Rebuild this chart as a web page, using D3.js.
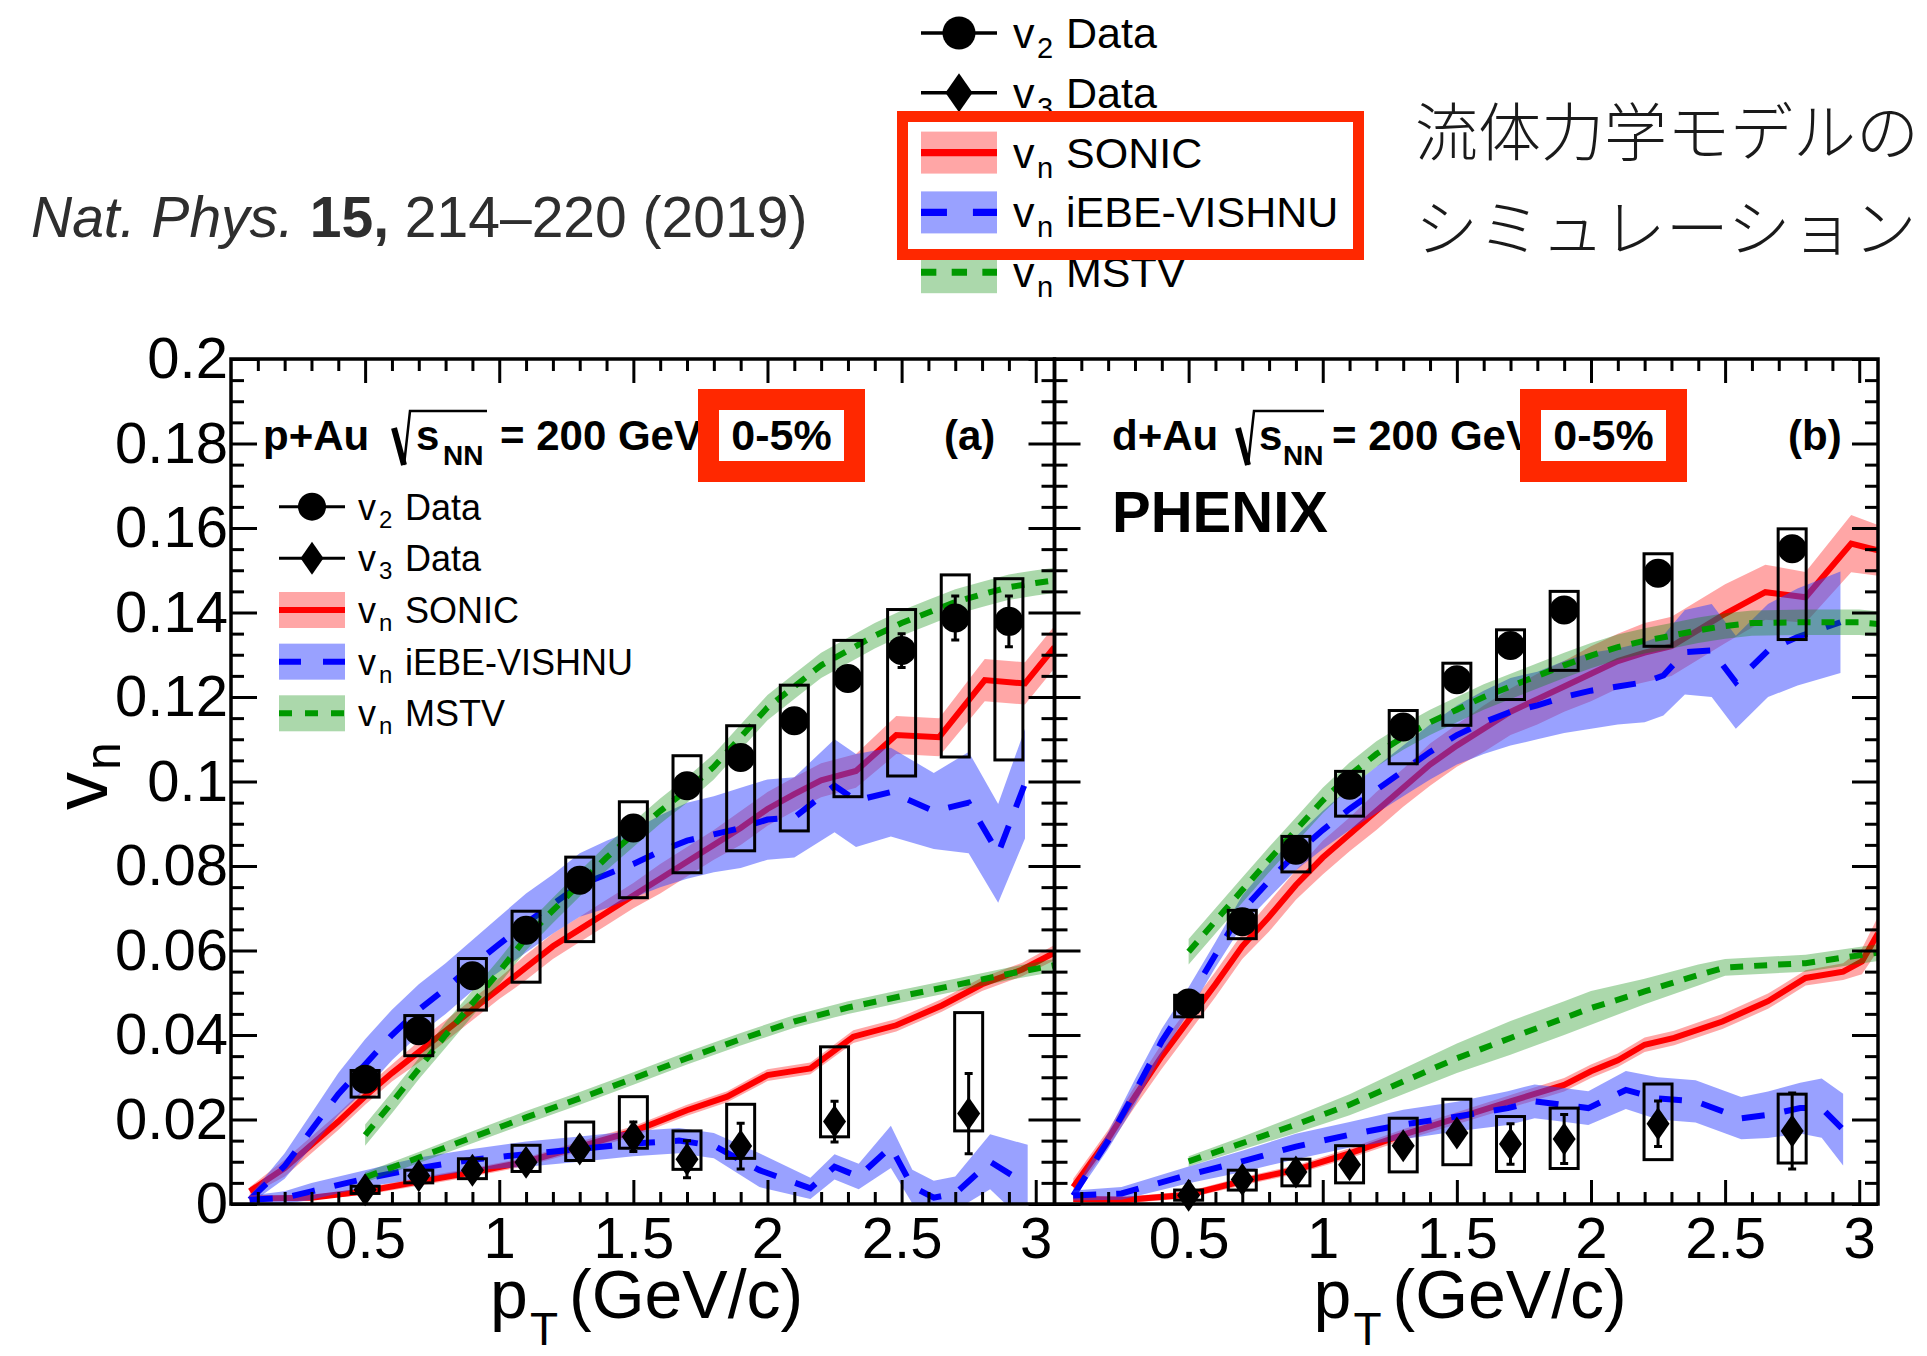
<!DOCTYPE html>
<html>
<head>
<meta charset="utf-8">
<script src="https://cdn.jsdelivr.net/npm/d3@7"></script>
<style>
  body { margin: 0; background: #fff; }
  text { font-family: "Liberation Sans", Arial, Helvetica, sans-serif; }
</style>
</head>
<body>
<svg id="chart" width="1927" height="1356"></svg>
<script>
// ---- measured points, read off the figure (pT in GeV/c) ----
// panel (a) p+Au
var ptV2_pAu    = [0.5, 0.7, 0.9, 1.1, 1.3, 1.5, 1.7, 1.9, 2.1, 2.3, 2.5, 2.7, 2.9];
var v2_pAu      = [0.0295, 0.041, 0.054, 0.0648, 0.0766, 0.089, 0.099, 0.1057, 0.1144, 0.1244, 0.131, 0.1387, 0.1379];
var v2Stat_pAu  = [0.001, 0.001, 0.001, 0.0012, 0.0012, 0.0013, 0.0015, 0.0018, 0.002, 0.0025, 0.004, 0.0052, 0.006];
var v2SysLo_pAu = [0.0253, 0.0351, 0.0459, 0.0525, 0.0621, 0.0725, 0.0784, 0.0836, 0.0883, 0.0964, 0.1013, 0.1058, 0.1051];
var v2SysHi_pAu = [0.0316, 0.0446, 0.0581, 0.0693, 0.0821, 0.0952, 0.1061, 0.1132, 0.1228, 0.1334, 0.1407, 0.1489, 0.148];

var ptV3_pAu    = [0.5, 0.7, 0.9, 1.1, 1.3, 1.5, 1.7, 1.9, 2.25, 2.75];
var v3_pAu      = [0.0034, 0.0067, 0.008, 0.0099, 0.013, 0.0159, 0.0106, 0.0137, 0.0195, 0.0214];
var v3Stat_pAu  = [0.0015, 0.0015, 0.0015, 0.0015, 0.002, 0.0035, 0.0044, 0.0054, 0.0048, 0.0095];
var v3SysLo_pAu = [0.0025, 0.005, 0.006, 0.0077, 0.0103, 0.0132, 0.0082, 0.0108, 0.0159, 0.0173];
var v3SysHi_pAu = [0.0042, 0.008, 0.0107, 0.0139, 0.0194, 0.0254, 0.0173, 0.0236, 0.0372, 0.0453];

// panel (b) d+Au
var pt_dAu      = [0.5, 0.7, 0.9, 1.1, 1.3, 1.5, 1.7, 1.9, 2.25, 2.75];
var v2_dAu      = [0.0476, 0.0668, 0.0837, 0.0991, 0.1129, 0.1241, 0.1322, 0.1406, 0.1493, 0.1551];
var v2Stat_dAu  = [0.001, 0.001, 0.001, 0.001, 0.0012, 0.0012, 0.0014, 0.0016, 0.002, 0.0025];
var v2SysLo_dAu = [0.0443, 0.0628, 0.0786, 0.0918, 0.1042, 0.1133, 0.1194, 0.1263, 0.132, 0.1336];
var v2SysHi_dAu = [0.0494, 0.0695, 0.087, 0.1024, 0.1168, 0.128, 0.1359, 0.145, 0.1539, 0.1598];
var v3_dAu      = [0.0021, 0.0058, 0.0076, 0.0093, 0.0138, 0.0168, 0.0142, 0.0154, 0.019, 0.0173];
var v3Stat_dAu  = [0.0015, 0.0015, 0.0015, 0.0015, 0.002, 0.002, 0.0048, 0.0058, 0.0054, 0.009];
var v3SysLo_dAu = [0.0009, 0.0033, 0.0043, 0.005, 0.0076, 0.0093, 0.0077, 0.0084, 0.0105, 0.0097];
var v3SysHi_dAu = [0.0033, 0.008, 0.0106, 0.0138, 0.0203, 0.0248, 0.0207, 0.0227, 0.0284, 0.026];

// ---- hydro model curves: [pT, vn, half width of band] ----
var sonicV2_pAu = [[0.07,0.003,0.001],[0.2,0.0085,0.002],[0.3,0.014,0.002],[0.4,0.0195,0.002],[0.5,0.0255,0.002],
  [0.6,0.031,0.002],[0.7,0.036,0.0025],[0.8,0.041,0.0025],[0.9,0.046,0.0025],[1.0,0.051,0.0025],[1.1,0.056,0.003],
  [1.2,0.061,0.003],[1.3,0.065,0.003],[1.4,0.069,0.003],[1.5,0.073,0.003],[1.6,0.077,0.0035],[1.7,0.081,0.0035],
  [1.8,0.085,0.0035],[1.9,0.089,0.004],[2.0,0.0935,0.004],[2.1,0.097,0.004],[2.2,0.1003,0.004],[2.33,0.1025,0.004],
  [2.48,0.111,0.0045],[2.64,0.1105,0.0045],[2.81,0.124,0.005],[2.96,0.1232,0.005],[3.07,0.1318,0.005]];
var vishnuV2_pAu = [[0.07,0.001,0.001],[0.2,0.009,0.003],[0.3,0.0175,0.004],[0.4,0.026,0.005],[0.5,0.033,0.006],
  [0.6,0.04,0.006],[0.7,0.046,0.006],[0.8,0.051,0.006],[0.9,0.0565,0.006],[1.0,0.0615,0.0065],[1.1,0.0665,0.007],
  [1.2,0.071,0.007],[1.3,0.0755,0.0075],[1.4,0.078,0.008],[1.5,0.0805,0.008],[1.6,0.0835,0.0085],[1.7,0.086,0.009],
  [1.8,0.0875,0.009],[1.9,0.089,0.0095],[2.0,0.091,0.0095],[2.1,0.0915,0.0095],[2.25,0.099,0.011],[2.33,0.0955,0.011],
  [2.46,0.0975,0.0105],[2.62,0.093,0.009],[2.75,0.095,0.012],[2.86,0.083,0.0117],[2.96,0.0995,0.013]];
var mstvV2_pAu = [[0.5,0.0163,0.0025],[0.6,0.024,0.0025],[0.7,0.032,0.0025],[0.8,0.04,0.003],[0.9,0.0475,0.003],
  [1.0,0.055,0.003],[1.1,0.063,0.003],[1.2,0.0695,0.003],[1.3,0.0758,0.003],[1.4,0.082,0.003],[1.5,0.0875,0.003],
  [1.6,0.093,0.003],[1.7,0.098,0.003],[1.8,0.1035,0.003],[1.9,0.1105,0.003],[2.0,0.1175,0.003],[2.1,0.1225,0.003],
  [2.2,0.1275,0.003],[2.3,0.131,0.003],[2.4,0.1345,0.003],[2.5,0.1375,0.003],[2.6,0.14,0.003],[2.7,0.1425,0.003],
  [2.8,0.1443,0.003],[2.9,0.146,0.003],[3.0,0.147,0.003],[3.07,0.1476,0.003]];
var sonicV3_pAu = [[0.07,0.0013,0.0005],[0.3,0.0015,0.0005],[0.5,0.003,0.0008],[0.7,0.0053,0.001],[0.9,0.0075,0.001],
  [1.1,0.01,0.001],[1.3,0.0136,0.0012],[1.5,0.0172,0.0012],[1.7,0.0222,0.0013],[1.85,0.0254,0.0013],[2.0,0.0305,0.0014],
  [2.16,0.0321,0.0014],[2.32,0.0396,0.0015],[2.48,0.0423,0.0015],[2.65,0.047,0.0015],[2.8,0.052,0.0016],
  [2.95,0.0555,0.0016],[3.07,0.0595,0.0018]];
var vishnuV3_pAu = [[0.07,0.001,0.001],[0.2,0.0015,0.0015],[0.3,0.003,0.002],[0.5,0.006,0.002],[0.7,0.0085,0.0025],
  [0.9,0.0105,0.0025],[1.1,0.0118,0.003],[1.3,0.013,0.003],[1.5,0.0143,0.003],[1.67,0.015,0.003],[1.8,0.0138,0.003],
  [1.97,0.008,0.004],[2.16,0.0037,0.0025],[2.25,0.0088,0.003],[2.34,0.0065,0.003],[2.46,0.0135,0.005],
  [2.54,0.0041,0.004],[2.62,0.0015,0.004],[2.7,0.0025,0.004],[2.83,0.01,0.0065],[2.97,0.0045,0.0095]];
var mstvV3_pAu = [[0.5,0.0063,0.0012],[0.7,0.011,0.0013],[0.9,0.0158,0.0014],[1.1,0.0205,0.0015],[1.3,0.025,0.0015],
  [1.5,0.0297,0.0015],[1.7,0.0345,0.0015],[1.9,0.039,0.0015],[2.1,0.0432,0.0015],[2.3,0.0465,0.0015],
  [2.5,0.0492,0.0015],[2.7,0.0518,0.0015],[2.9,0.0545,0.0015],[3.07,0.0565,0.0015]];

var sonicV2_dAu = [[0.07,0.004,0.002],[0.2,0.0155,0.002],[0.3,0.0255,0.0025],[0.4,0.035,0.003],[0.5,0.0435,0.003],
  [0.6,0.052,0.003],[0.7,0.061,0.003],[0.8,0.068,0.0035],[0.9,0.0755,0.0035],[1.0,0.082,0.004],[1.1,0.0875,0.004],
  [1.2,0.093,0.0045],[1.3,0.0985,0.0045],[1.4,0.104,0.005],[1.5,0.1085,0.005],[1.6,0.1125,0.0055],[1.7,0.1165,0.0055],
  [1.8,0.1195,0.006],[1.9,0.1225,0.006],[2.0,0.1255,0.0065],[2.1,0.1285,0.0065],[2.2,0.1305,0.007],[2.3,0.132,0.007],
  [2.5,0.1397,0.007],[2.65,0.1448,0.0065],[2.8,0.1436,0.006],[2.97,0.1563,0.0068],[3.07,0.1547,0.006]];
var vishnuV2_dAu = [[0.07,0.002,0.001],[0.2,0.015,0.002],[0.3,0.0265,0.003],[0.4,0.0385,0.003],[0.5,0.0483,0.003],
  [0.6,0.059,0.003],[0.7,0.0695,0.0035],[0.8,0.0765,0.004],[0.9,0.083,0.004],[1.0,0.0885,0.0045],[1.1,0.0935,0.005],
  [1.2,0.098,0.0055],[1.3,0.1025,0.006],[1.4,0.107,0.0065],[1.5,0.111,0.007],[1.6,0.114,0.0075],[1.7,0.1165,0.008],
  [1.8,0.118,0.008],[1.9,0.12,0.0085],[2.0,0.1215,0.009],[2.1,0.1225,0.009],[2.2,0.1235,0.0095],[2.27,0.1251,0.0095],
  [2.35,0.1306,0.01],[2.45,0.131,0.011],[2.54,0.1235,0.011],[2.66,0.131,0.011],[2.77,0.1342,0.0115],[2.93,0.1377,0.012]];
var mstvV2_dAu = [[0.5,0.0597,0.003],[0.6,0.067,0.003],[0.7,0.0743,0.003],[0.8,0.0815,0.003],[0.9,0.0885,0.003],
  [1.0,0.0955,0.003],[1.1,0.1015,0.003],[1.2,0.1065,0.003],[1.3,0.1105,0.003],[1.4,0.114,0.003],[1.5,0.117,0.003],
  [1.6,0.12,0.003],[1.7,0.1225,0.003],[1.8,0.125,0.003],[1.9,0.1275,0.003],[2.0,0.1298,0.003],[2.1,0.1318,0.003],
  [2.2,0.1333,0.003],[2.3,0.1345,0.003],[2.4,0.1358,0.003],[2.5,0.1368,0.003],[2.6,0.1375,0.003],[2.8,0.1377,0.003],
  [3.0,0.1377,0.003],[3.07,0.1373,0.003]];
var sonicV3_dAu = [[0.07,0.0012,0.0008],[0.27,0.001,0.0008],[0.5,0.0022,0.0008],[0.7,0.0054,0.001],[0.9,0.0081,0.001],
  [1.1,0.012,0.0012],[1.3,0.0164,0.0013],[1.5,0.0203,0.0014],[1.7,0.0243,0.0015],[1.9,0.0282,0.0016],[2.0,0.0314,0.0016],
  [2.1,0.034,0.0016],[2.2,0.0377,0.0017],[2.31,0.0393,0.0017],[2.49,0.0432,0.0018],[2.66,0.048,0.0018],
  [2.8,0.0535,0.0018],[2.94,0.055,0.002],[3.01,0.0574,0.003],[3.07,0.064,0.004]];
var vishnuV3_dAu = [[0.07,0.002,0.0012],[0.25,0.0025,0.0015],[0.5,0.0069,0.002],[0.7,0.0101,0.0025],[0.9,0.0136,0.003],
  [1.1,0.0164,0.003],[1.3,0.0188,0.0035],[1.5,0.0207,0.0035],[1.69,0.0227,0.004],[1.79,0.0243,0.004],[1.89,0.0235,0.004],
  [1.99,0.0227,0.004],[2.13,0.027,0.0045],[2.25,0.025,0.005],[2.39,0.0243,0.005],[2.56,0.0203,0.005],
  [2.66,0.0211,0.0055],[2.78,0.0227,0.006],[2.86,0.0227,0.007],[2.94,0.0176,0.0085]];
var mstvV3_dAu = [[0.5,0.0101,0.0012],[0.7,0.0144,0.0015],[0.9,0.0188,0.002],[1.1,0.0235,0.0025],[1.3,0.029,0.003],
  [1.5,0.0345,0.0035],[1.7,0.0393,0.004],[1.9,0.044,0.004],[2.0,0.0464,0.004],[2.2,0.0503,0.003],[2.4,0.0542,0.0025],
  [2.5,0.056,0.002],[2.8,0.057,0.002],[3.07,0.0595,0.002]];

// ticks and labels
var xMajor = [0.5, 1, 1.5, 2, 2.5, 3];
var xLabels = ["0.5", "1", "1.5", "2", "2.5", "3"];
var yMajor = [0, 0.02, 0.04, 0.06, 0.08, 0.1, 0.12, 0.14, 0.16, 0.18, 0.2];
var yLabels = ["0", "0.02", "0.04", "0.06", "0.08", "0.1", "0.12", "0.14", "0.16", "0.18", "0.2"];
var legendNames = ["Data", "Data", "SONIC", "iEBE-VISHNU", "MSTV"];
var legendSubs = ["2", "3", "n", "n", "n"];

// ---- layout ----
var svg = d3.select("#chart");
svg.append("rect").attr("width", 1927).attr("height", 1356).attr("fill", "#fff");

var plotTop = 359, plotBottom = 1204;
var y = d3.scaleLinear().domain([0, 0.2]).range([plotBottom, plotTop]);

var styles = {
  sonic:  {band: "#ff0000", op: 0.35, line: "#ff0000", dash: null},
  vishnu: {band: "#3344ff", op: 0.5,  line: "#0000ff", dash: "23,20"},
  mstv:   {band: "#008800", op: 0.33, line: "#009900", dash: "13,11"}
};
var RED = "#ff2800";

function zipData(pt, v, st, lo, hi) {
  return pt.map(function(p, i) { return {pt: p, v: v[i], st: st[i], lo: lo[i], hi: hi[i]}; });
}

var panels = [
  {
    id: "a", left: 231, right: 1054.5, sys: "p+Au", tag: "(a)",
    hx: 263, rx: 394, sx: 416, nx: 443, ovEnd: 487, ex: 500, tagX: 944, boxX: 708.5,
    v2: zipData(ptV2_pAu, v2_pAu, v2Stat_pAu, v2SysLo_pAu, v2SysHi_pAu),
    v3: zipData(ptV3_pAu, v3_pAu, v3Stat_pAu, v3SysLo_pAu, v3SysHi_pAu),
    models: [["sonic", sonicV2_pAu], ["vishnu", vishnuV2_pAu], ["mstv", mstvV2_pAu],
             ["sonic", sonicV3_pAu], ["vishnu", vishnuV3_pAu], ["mstv", mstvV3_pAu]],
    yLabels: true
  },
  {
    id: "b", left: 1054.5, right: 1878, sys: "d+Au", tag: "(b)",
    hx: 1112, rx: 1238, sx: 1259, nx: 1283, ovEnd: 1324, ex: 1332, tagX: 1788, boxX: 1530.5,
    v2: zipData(pt_dAu, v2_dAu, v2Stat_dAu, v2SysLo_dAu, v2SysHi_dAu),
    v3: zipData(pt_dAu, v3_dAu, v3Stat_dAu, v3SysLo_dAu, v3SysHi_dAu),
    models: [["sonic", sonicV2_dAu], ["vishnu", vishnuV2_dAu], ["mstv", mstvV2_dAu],
             ["sonic", sonicV3_dAu], ["vishnu", vishnuV3_dAu], ["mstv", mstvV3_dAu]],
    yLabels: false
  }
];

var diamond = "M0,-16.5L11.5,0L0,16.5L-11.5,0Z";

panels.forEach(function(p) {
  var x = d3.scaleLinear().domain([0, 3.07]).range([p.left, p.right]);
  var g = svg.append("g");

  g.append("clipPath").attr("id", "clip-" + p.id)
    .append("rect").attr("x", p.left).attr("y", plotTop)
    .attr("width", p.right - p.left).attr("height", plotBottom - plotTop);

  var curves = g.append("g").attr("clip-path", "url(#clip-" + p.id + ")");
  var area = d3.area().x(function(d) { return x(d[0]); })
    .y0(function(d) { return y(d[1] - d[2]); }).y1(function(d) { return y(d[1] + d[2]); });
  var line = d3.line().x(function(d) { return x(d[0]); }).y(function(d) { return y(d[1]); });

  p.models.forEach(function(m) {
    var s = styles[m[0]];
    curves.append("path").attr("d", area(m[1])).attr("fill", s.band).attr("fill-opacity", s.op);
    curves.append("path").attr("d", line(m[1])).attr("fill", "none")
      .attr("stroke", s.line).attr("stroke-width", 6)
      .attr("stroke-dasharray", s.dash);
  });

  // data: systematic boxes, stat bars, markers
  [p.v2, p.v3].forEach(function(set, k) {
    var dg = g.append("g");
    dg.selectAll("rect.sys").data(set).enter().append("rect")
      .attr("x", function(d) { return x(d.pt) - 14; })
      .attr("y", function(d) { return y(d.hi); })
      .attr("width", 28)
      .attr("height", function(d) { return y(d.lo) - y(d.hi); })
      .attr("fill", "none").attr("stroke", "#000").attr("stroke-width", 3);
    dg.selectAll("path.err").data(set).enter().append("path")
      .attr("d", function(d) {
        var cx = x(d.pt), t = y(d.v + d.st), b = y(d.v - d.st);
        return "M" + cx + "," + t + "V" + b + "M" + (cx - 4) + "," + t + "H" + (cx + 4) +
               "M" + (cx - 4) + "," + b + "H" + (cx + 4);
      })
      .attr("stroke", "#000").attr("stroke-width", 3).attr("fill", "none");
    if (k === 0) {
      dg.selectAll("circle").data(set).enter().append("circle")
        .attr("cx", function(d) { return x(d.pt); })
        .attr("cy", function(d) { return y(d.v); })
        .attr("r", 14.5).attr("fill", "#000");
    } else {
      dg.selectAll("path.mk").data(set).enter().append("path")
        .attr("d", diamond)
        .attr("transform", function(d) { return "translate(" + x(d.pt) + "," + y(d.v) + ")"; })
        .attr("fill", "#000");
    }
  });

  // frame and ticks (inside, all four sides)
  var xMinor = d3.range(1, 31).map(function(i) { return i / 10; })
    .filter(function(v) { return Math.abs(v * 2 - Math.round(v * 2)) > 1e-6; });
  var yMinor = d3.range(1, 40).map(function(i) { return i * 0.005; })
    .filter(function(v) { return Math.abs(v / 0.02 - Math.round(v / 0.02)) > 1e-6; });

  function tickAxis(axis, tf) {
    var ag = g.append("g").attr("transform", tf).call(axis);
    ag.select(".domain").remove();
    ag.selectAll("line").attr("stroke", "#000").attr("stroke-width", 3);
    ag.selectAll("text").attr("fill", "#000")
      .style("font-family", "'Liberation Sans', Arial, sans-serif").style("font-size", "58px");
    return ag;
  }
  tickAxis(d3.axisBottom(x).tickValues(xMajor).tickSizeInner(-24).tickSizeOuter(0)
    .tickPadding(13).tickFormat(function(d, i) { return xLabels[i]; }), "translate(0," + plotBottom + ")");
  tickAxis(d3.axisBottom(x).tickValues(xMinor).tickSizeInner(-12).tickSizeOuter(0).tickFormat(""),
    "translate(0," + plotBottom + ")");
  tickAxis(d3.axisTop(x).tickValues(xMajor).tickSizeInner(-24).tickSizeOuter(0).tickFormat(""),
    "translate(0," + plotTop + ")");
  tickAxis(d3.axisTop(x).tickValues(xMinor).tickSizeInner(-12).tickSizeOuter(0).tickFormat(""),
    "translate(0," + plotTop + ")");
  tickAxis(d3.axisLeft(y).tickValues(yMajor).tickSizeInner(-26).tickSizeOuter(0).tickPadding(3)
    .tickFormat(function(d, i) { return p.yLabels ? yLabels[i] : ""; }), "translate(" + p.left + ",0)");
  tickAxis(d3.axisLeft(y).tickValues(yMinor).tickSizeInner(-13).tickSizeOuter(0).tickFormat(""),
    "translate(" + p.left + ",0)");
  tickAxis(d3.axisRight(y).tickValues(yMajor).tickSizeInner(-26).tickSizeOuter(0).tickFormat(""),
    "translate(" + p.right + ",0)");
  tickAxis(d3.axisRight(y).tickValues(yMinor).tickSizeInner(-13).tickSizeOuter(0).tickFormat(""),
    "translate(" + p.right + ",0)");

  g.append("rect").attr("x", p.left).attr("y", plotTop)
    .attr("width", p.right - p.left).attr("height", plotBottom - plotTop)
    .attr("fill", "none").attr("stroke", "#000").attr("stroke-width", 3.5);

  // header: system, sqrt(s_NN) = 200 GeV, tag
  var hb = 450;
  g.append("text").attr("x", p.hx).attr("y", hb).attr("font-size", 42).attr("font-weight", "bold").text(p.sys);
  g.append("path").attr("d", "M" + p.rx + ",428L" + (p.rx + 10) + ",465")
    .attr("stroke", "#000").attr("stroke-width", 6).attr("fill", "none");
  g.append("path").attr("d", "M" + (p.rx + 10) + ",465L" + (p.rx + 16) + ",411H" + p.ovEnd)
    .attr("stroke", "#000").attr("stroke-width", 2.5).attr("fill", "none");
  g.append("text").attr("x", p.sx).attr("y", hb).attr("font-size", 42).attr("font-weight", "bold").text("s");
  g.append("text").attr("x", p.nx).attr("y", hb + 15).attr("font-size", 28).attr("font-weight", "bold").text("NN");
  g.append("text").attr("x", p.ex).attr("y", hb).attr("font-size", 42).attr("font-weight", "bold")
    .attr("xml:space", "preserve").text("= 200 GeV");
  g.append("text").attr("x", p.tagX).attr("y", hb).attr("font-size", 42).attr("font-weight", "bold").text(p.tag);

  // centrality label with red highlight box
  g.append("rect").attr("x", p.boxX).attr("y", 399.5).attr("width", 146).attr("height", 72)
    .attr("fill", "#fff").attr("stroke", RED).attr("stroke-width", 21);
  g.append("text").attr("x", p.boxX + 73).attr("y", hb).attr("text-anchor", "middle")
    .attr("font-size", 43).attr("font-weight", "bold").text("0-5%");

  // x title
  var xo = p.left - 231;
  g.append("text").attr("x", 490 + xo).attr("y", 1318).attr("font-size", 68).text("p");
  g.append("text").attr("x", 530 + xo).attr("y", 1345).attr("font-size", 46).text("T");
  g.append("text").attr("x", 569 + xo).attr("y", 1318).attr("font-size", 68).text("(GeV/c)");

  if (p.id === "b") {
    g.append("text").attr("x", 1112).attr("y", 532).attr("font-size", 58).attr("font-weight", "bold").text("PHENIX");
  }
});

// y title
var yt = svg.append("text").attr("transform", "translate(107,810) rotate(-90)");
yt.append("tspan").attr("font-size", 76).text("v");
yt.append("tspan").attr("font-size", 50).attr("dy", 13).attr("dx", 2).text("n");

// ---- legends ----
function drawLegend(o) {
  var lg = svg.append("g");
  legendNames.forEach(function(name, i) {
    var cy = o.y0 + i * o.dy;
    var kind = ["v2", "v3", "sonic", "vishnu", "mstv"][i];
    if (kind === "v2" || kind === "v3") {
      lg.append("line").attr("x1", o.x0).attr("x2", o.x1).attr("y1", cy).attr("y2", cy)
        .attr("stroke", "#000").attr("stroke-width", 3 * o.k);
      if (kind === "v2") {
        lg.append("circle").attr("cx", (o.x0 + o.x1) / 2).attr("cy", cy).attr("r", 14 * o.k).attr("fill", "#000");
      } else {
        lg.append("path").attr("d", diamond).attr("fill", "#000")
          .attr("transform", "translate(" + (o.x0 + o.x1) / 2 + "," + cy + ") scale(" + o.k + ")");
      }
    } else {
      var s = styles[kind];
      lg.append("rect").attr("x", o.x0).attr("y", cy - o.bh / 2).attr("width", o.x1 - o.x0).attr("height", o.bh)
        .attr("fill", s.band).attr("fill-opacity", s.op);
      var ds = kind === "vishnu" ? [22 * o.k, 22 * o.k] : (kind === "mstv" ? [13 * o.k, 13 * o.k] : null);
      lg.append("line").attr("x1", o.x0).attr("x2", o.x1).attr("y1", cy).attr("y2", cy)
        .attr("stroke", s.line).attr("stroke-width", 6 * o.k)
        .attr("stroke-dasharray", ds ? ds.join(",") : null);
    }
    lg.append("text").attr("x", o.xv).attr("y", cy + o.base).attr("font-size", o.fs).text("v");
    lg.append("text").attr("x", o.xs).attr("y", cy + o.subBase).attr("font-size", o.sfs).text(legendSubs[i]);
    lg.append("text").attr("x", o.xt).attr("y", cy + o.base).attr("font-size", o.fs).text(name);
  });
  return lg;
}

drawLegend({x0: 279, x1: 345, y0: 506.7, dy: 51.65, k: 1, bh: 36, xv: 358, xs: 379, xt: 405,
  fs: 36, sfs: 24, base: 13, subBase: 21});
drawLegend({x0: 921, x1: 997, y0: 33, dy: 59.8, k: 1.18, bh: 42, xv: 1013, xs: 1037, xt: 1066,
  fs: 43, sfs: 29, base: 15, subBase: 25});

// red highlight around the hydro models in the top legend
svg.append("rect").attr("x", 902.5).attr("y", 116.5).attr("width", 456).attr("height", 138)
  .attr("fill", "none").attr("stroke", RED).attr("stroke-width", 11);

// citation
var cite = svg.append("text").attr("x", 31).attr("y", 237).attr("font-size", 57).attr("fill", "#2e2e2e")
  .attr("xml:space", "preserve");
cite.append("tspan").attr("font-style", "italic").text("Nat. Phys. ");
cite.append("tspan").attr("font-weight", "bold").text("15,");
cite.append("tspan").text(" 214\u2013220 (2019)");

// Japanese annotation
svg.append("text").attr("x", 1415).attr("y", 155).attr("font-size", 63).attr("fill", "#1a1a1a")
  .attr("font-weight", 300)
  .style("font-family", "'Noto Sans CJK JP', sans-serif").text("流体力学モデルの");
svg.append("text").attr("x", 1415).attr("y", 251).attr("font-size", 63).attr("fill", "#1a1a1a")
  .attr("font-weight", 300)
  .style("font-family", "'Noto Sans CJK JP', sans-serif").text("シミュレーション");
</script>
</body>
</html>
